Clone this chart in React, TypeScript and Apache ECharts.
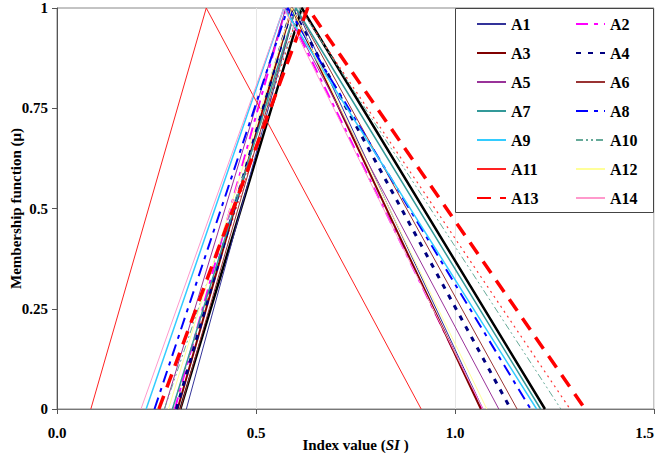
import React, { useEffect, useRef } from "react";
import * as echarts from "echarts";

// Triangular membership functions: left foot, peak, right foot on the SI axis
const names = ["A15", "A16", "A1", "A2", "A3", "A4", "A5", "A6", "A7", "A8", "A9", "A10", "A11", "A12", "A13", "A14"];
const leftFoot = [0.31, 0.29, 0.325, 0.296, 0.303, 0.3, 0.27, 0.31, 0.29, 0.245, 0.224, 0.27, 0.085, 0.28, 0.256, 0.211];
const peakAt = [0.615, 0.61, 0.6, 0.575, 0.59, 0.59, 0.575, 0.6, 0.6, 0.58, 0.57, 0.61, 0.375, 0.59, 0.63, 0.57];
const rightFoot = [1.226, 1.289, 1.07, 1.068, 1.065, 1.14, 1.11, 1.156, 1.215, 1.19, 1.205, 1.266, 0.915, 1.08, 1.327, 1.07];

const colors = ["#000000", "#ff3333", "#333399", "#ff00ff", "#800000", "#000080", "#993399", "#993333", "#339999", "#0000ff", "#33ccff", "#66aa99", "#ff2222", "#ffff99", "#ff0000", "#ff99cc"];
const widths = [2.5, 1.2, 1, 2, 2, 3, 1, 1, 1.5, 2, 1.5, 1, 1, 1, 3.5, 1];
const dashes: (number[] | "solid")[] = [
  "solid", [2, 4], "solid", [12, 6, 4, 6], "solid", [5, 7], "solid", "solid", "solid", [12, 6, 4, 6],
  "solid", [7, 3, 2, 3, 2, 3], "solid", "solid", [14, 9], "solid",
];

const legendLeft = ["A1", "A3", "A5", "A7", "A9", "A11", "A13"];
const legendRight = ["A2", "A4", "A6", "A8", "A10", "A12", "A14"];

const xTicks = [0, 0.5, 1.0, 1.5];
const yTicks = [0, 0.25, 0.5, 0.75, 1];

const FONT = "'Liberation Serif', 'Times New Roman', serif";

export default function App() {
  const ref = useRef<HTMLDivElement>(null);

  useEffect(() => {
    if (!ref.current) return;
    const chart = echarts.init(ref.current, undefined, { renderer: "svg" });

    const series = names.map((name, i) => ({
      name,
      type: "line",
      data: [
        [leftFoot[i], 0],
        [peakAt[i], 1],
        [rightFoot[i], 0],
      ],
      symbol: "none",
      z: 2,
      lineStyle: { color: colors[i], width: widths[i], type: dashes[i] },
      itemStyle: { color: colors[i] },
    }));

    const legendCommon = {
      orient: "vertical",
      top: 11,
      itemWidth: 29,
      itemHeight: 14,
      itemGap: 13,
      selectedMode: false,
      z: 10,
      itemStyle: { opacity: 0 },
      textStyle: { fontFamily: FONT, fontWeight: "bold", fontSize: 16, color: "#000" },
    };

    chart.setOption({
      animation: false,
      backgroundColor: "#fff",
      grid: {
        left: 57,
        right: 6,
        top: 8,
        bottom: 44,
        containLabel: false,
        outerBoundsMode: "none",
        show: true,
        borderColor: "#888",
        borderWidth: 1,
      },
      xAxis: {
        type: "value",
        min: xTicks[0],
        max: xTicks[xTicks.length - 1],
        interval: 0.5,
        name: "{n|Index value (}{i|SI}{n| )}",
        nameLocation: "middle",
        nameGap: 28,
        nameMoveOverlap: false,
        nameTextStyle: {
          rich: {
            n: { fontFamily: FONT, fontWeight: "bold", fontSize: 15, color: "#000" },
            i: { fontFamily: FONT, fontWeight: "bold", fontStyle: "italic", fontSize: 15, color: "#000" },
          },
        },
        axisLine: { lineStyle: { color: "#777", width: 1 } },
        axisTick: { show: true, length: 5, lineStyle: { color: "#555" } },
        splitLine: { show: true, lineStyle: { color: "#e6e6e6", width: 1 } },
        axisLabel: {
          formatter: (v: number) => v.toFixed(1),
          fontFamily: FONT,
          fontWeight: "bold",
          fontSize: 15,
          color: "#000",
          margin: 16,
          alignMaxLabel: "right",
        },
      },
      yAxis: {
        type: "value",
        min: yTicks[0],
        max: yTicks[yTicks.length - 1],
        interval: 0.25,
        name: "Membership function (\u03bc)",
        nameLocation: "middle",
        nameGap: 34,
        nameMoveOverlap: false,
        nameTextStyle: { fontFamily: FONT, fontWeight: "bold", fontSize: 15, color: "#000" },
        axisLine: { show: true, lineStyle: { color: "#555", width: 1 } },
        axisTick: { show: true, length: 5, lineStyle: { color: "#555" } },
        splitLine: { show: false },
        axisLabel: {
          fontFamily: FONT,
          fontWeight: "bold",
          fontSize: 15,
          color: "#000",
          margin: 9,
        },
      },
      legend: [
        { ...legendCommon, left: 471, data: legendLeft },
        { ...legendCommon, left: 570, data: legendRight },
      ],
      graphic: [
        {
          type: "rect",
          z: 5,
          shape: { x: 455.5, y: 8.5, width: 198, height: 204 },
          style: { fill: "#fff", stroke: "#444", lineWidth: 1 },
        },
      ],
      series,
    });

    return () => chart.dispose();
  }, []);

  return <div ref={ref} style={{ width: 660, height: 453, position: "absolute", left: 0, top: 0 }} />;
}
